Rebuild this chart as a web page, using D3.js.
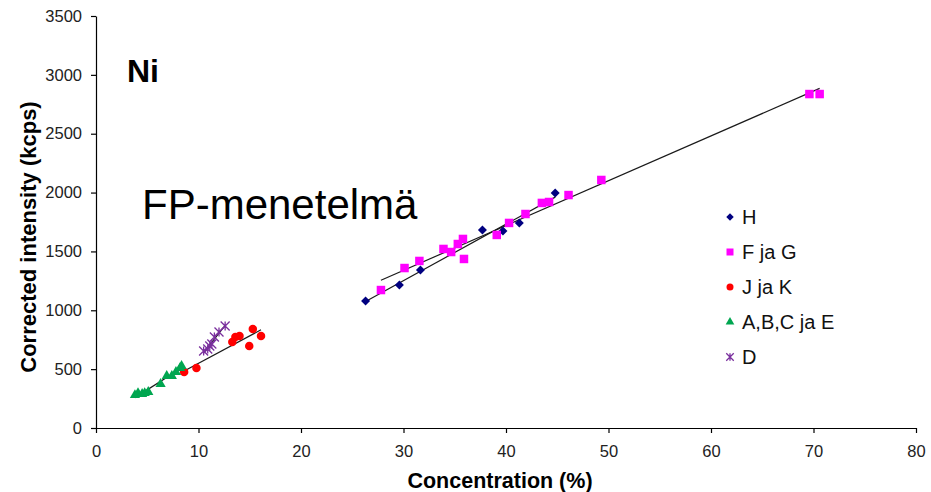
<!DOCTYPE html>
<html>
<head>
<meta charset="utf-8">
<script src="https://cdn.jsdelivr.net/npm/d3@7/dist/d3.min.js"></script>
<style>
body{margin:0;background:#fff}
text{font-family:'Liberation Sans',Arial,sans-serif}
</style>
</head>
<body>
<div id="graph"></div>
<script>
console.clear()

// values, concentration (%) vs corrected intensity (kcps)
var hConc  = [26.3, 29.6, 31.65, 37.7, 39.7, 41.3, 44.8]
var hInt   = [1079, 1215, 1342, 1682, 1674, 1742, 1996]

var fgConc = [27.8, 30.1, 31.55, 33.9, 34.65, 35.3, 35.8, 35.9, 39.1, 40.3, 41.9, 43.5, 44.2, 46.1, 49.3, 69.6, 70.6]
var fgInt  = [1172, 1359, 1419, 1521, 1495, 1563, 1606, 1436, 1640, 1742, 1818, 1912, 1920, 1979, 2107, 2837, 2837]

var jkConc = [8.6, 9.8, 13.3, 13.6, 14.0, 14.95, 15.3, 16.1]
var jkInt  = [476, 510, 731, 773, 782, 697, 841, 782]

var abcConc = [3.8, 4.1, 4.5, 4.75, 5.1, 6.3, 6.9, 7.4, 7.8, 8.2, 8.35]
var abcInt  = [280, 297, 289, 297, 306, 374, 442, 442, 476, 510, 527]

var dConc = [10.5, 10.9, 11.1, 11.3, 11.55, 12.0, 12.6]
var dInt  = [654, 671, 697, 714, 773, 816, 867]

var seriesNames = ['H', 'F ja G', 'J ja K', 'A,B,C ja E', 'D']
var xTicks = [0, 10, 20, 30, 40, 50, 60, 70, 80]
var yTicks = [0, 500, 1000, 1500, 2000, 2500, 3000, 3500]

var colors = ['#000080', '#ff00ff', '#ff0000', '#00a650', '#7a2f9e']
var shapes = ['diamond', 'square', 'circle', 'triangle', 'star']

var series = [
  [hConc, hInt], [fgConc, fgInt], [jkConc, jkInt], [abcConc, abcInt], [dConc, dInt]
].map(function(s, i){
  return {
    name: seriesNames[i],
    color: colors[i],
    shape: shapes[i],
    points: s[0].map(function(c, j){ return {conc: c, int: s[1][j]} })
  }
})

var width = 931, height = 492
var svg = d3.select('#graph').append('svg')
  .attr('width', width).attr('height', height)

var x = d3.scaleLinear().domain([0, 80]).range([96, 916])
var y = d3.scaleLinear().domain([0, 3500]).range([428, 16])

// axes
svg.append('g')
  .attr('transform', 'translate(0,' + y(0) + ')')
  .call(d3.axisBottom(x).tickValues(xTicks).tickSize(5).tickPadding(12).tickSizeOuter(0))
svg.append('g')
  .attr('transform', 'translate(' + x(0) + ',0)')
  .call(d3.axisLeft(y).tickValues(yTicks).tickSize(5).tickPadding(9).tickSizeOuter(0).tickFormat(d3.format('d')))

svg.selectAll('.domain, .tick line').attr('stroke', '#000').attr('stroke-width', 1.2)
svg.selectAll('.tick text')
  .attr('fill', '#222')
  .style('font-size', '16.5px')

// axis titles
svg.append('text')
  .attr('x', 500).attr('y', 488)
  .attr('text-anchor', 'middle')
  .style('font-size', '21.5px').style('font-weight', 'bold')
  .text('Concentration (%)')

svg.append('text')
  .attr('transform', 'translate(36,237) rotate(-90)')
  .attr('text-anchor', 'middle')
  .style('font-size', '22px').style('font-weight', 'bold')
  .text('Corrected intensity (kcps)')

svg.append('text')
  .attr('x', 127).attr('y', 82)
  .style('font-size', '32px').style('font-weight', 'bold')
  .text('Ni')

svg.append('text')
  .attr('x', 142).attr('y', 219)
  .style('font-size', '42px')
  .text('FP-menetelmä')

// linear trend line for each series, over its own range
function fit(pts){
  var mx = d3.mean(pts, d => d.conc), my = d3.mean(pts, d => d.int)
  var sxy = d3.sum(pts, d => (d.conc - mx) * (d.int - my))
  var sxx = d3.sum(pts, d => (d.conc - mx) * (d.conc - mx))
  var b = sxy / sxx, a = my - b * mx
  var ext = d3.extent(pts, d => d.conc)
  return ext.map(c => ({conc: c, int: a + b * c}))
}

var line = d3.line().x(d => x(d.conc)).y(d => y(d.int))

svg.append('g').selectAll('path')
  .data(series).enter().append('path')
  .attr('d', d => line(fit(d.points)))
  .attr('fill', 'none').attr('stroke', '#1a1a1a').attr('stroke-width', 1.2)

// markers
function drawMarker(sel, shape, color, s){
  if (shape == 'diamond'){
    sel.append('path').attr('d', d3.symbol(d3.symbolSquare, s * s / 2)())
      .attr('transform', 'rotate(45)').attr('fill', color)
  } else if (shape == 'square'){
    sel.append('path').attr('d', d3.symbol(d3.symbolSquare, s * s)()).attr('fill', color)
  } else if (shape == 'circle'){
    sel.append('circle').attr('r', s / 2).attr('fill', color)
  } else if (shape == 'triangle'){
    sel.append('path').attr('d', d3.symbol(d3.symbolTriangle, s * s * 0.45)()).attr('fill', color)
  } else {
    var h = s / 2
    sel.append('path')
      .attr('d', 'M' + -h + ',' + -h + 'L' + h + ',' + h + 'M' + -h + ',' + h + 'L' + h + ',' + -h + 'M0,' + -h + 'L0,' + h)
      .attr('stroke', color).attr('stroke-width', 1.3).attr('fill', 'none')
  }
}

var markSize = {diamond: 9, square: 8.5, circle: 8.5, triangle: 10, star: 9}

series.forEach(function(s){
  svg.append('g').selectAll('g')
    .data(s.points).enter().append('g')
    .attr('transform', d => 'translate(' + x(d.conc) + ',' + y(d.int) + ')')
    .each(function(){ drawMarker(d3.select(this), s.shape, s.color, markSize[s.shape]) })
})

// legend
var legend = svg.append('g').selectAll('g')
  .data(series).enter().append('g')
  .attr('transform', (d, i) => 'translate(730,' + (217 + i * 35) + ')')

legend.each(function(d){ drawMarker(d3.select(this), d.shape, d.color, markSize[d.shape] - 1.5) })

legend.append('text')
  .attr('x', 12).attr('dy', '0.36em')
  .style('font-size', '20px')
  .attr('fill', '#111')
  .text(d => d.name)
</script>
</body>
</html>
